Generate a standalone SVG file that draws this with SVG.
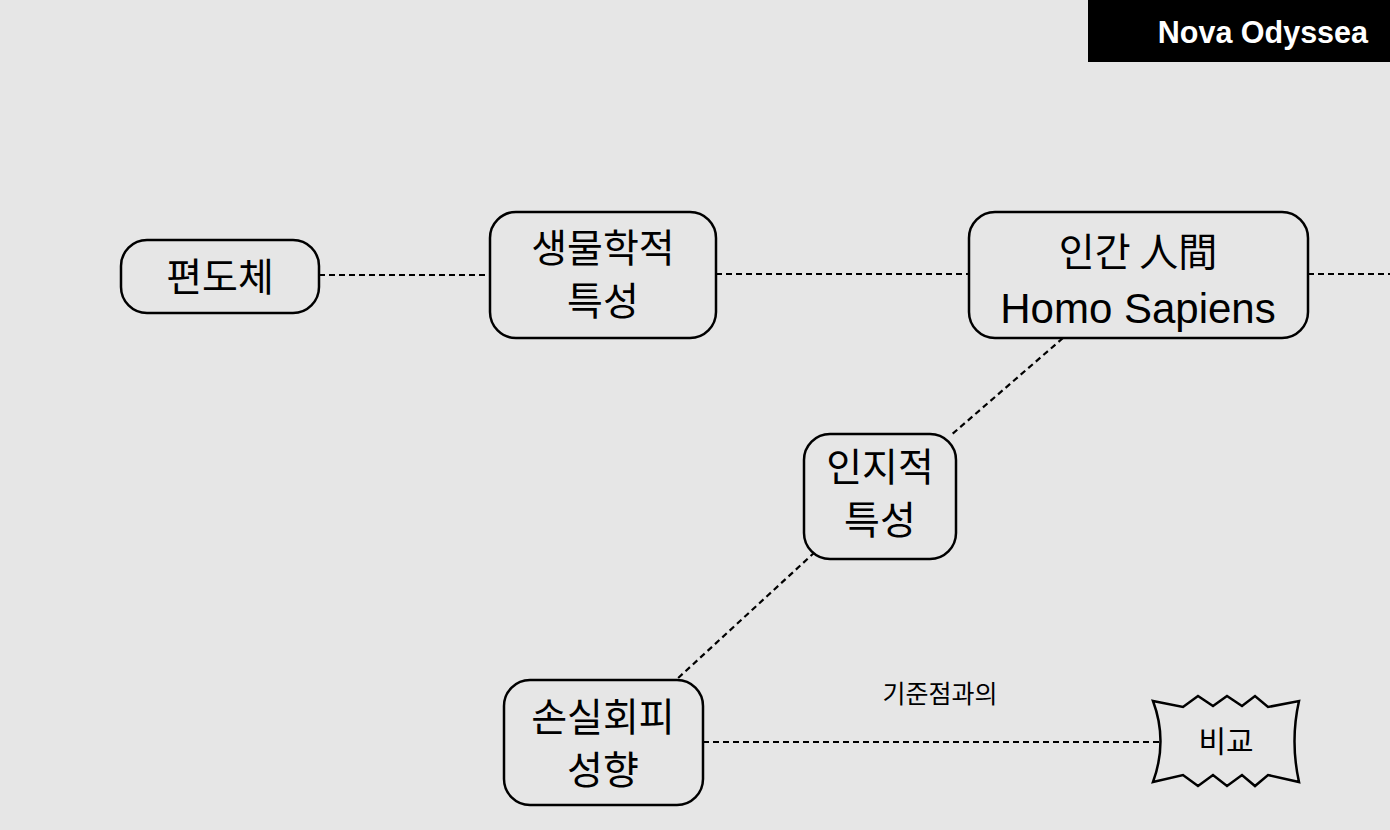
<svg xmlns="http://www.w3.org/2000/svg" width="1390" height="830" viewBox="0 0 1390 830">
<style>
.bg{fill:#e6e6e6}
.node{fill:#e6e6e6;stroke:#000;stroke-width:2.5}
.kr{font-family:"Noto Sans CJK KR","Noto Sans",sans-serif;font-size:39px;fill:#000;text-anchor:middle;dominant-baseline:central}
.lat{font-family:"Liberation Sans",Arial,sans-serif;font-size:42px;fill:#000;text-anchor:middle}
.edge{fill:none;stroke:#000;stroke-width:2.2;stroke-dasharray:6 4}
</style>
<rect class="bg" x="0" y="0" width="1390" height="830"/>
<g id="header">
<rect x="1088" y="0" width="302" height="62" fill="#000"/>
<text x="1368" y="43" font-family="Liberation Sans,Arial,sans-serif" font-size="30.5" font-weight="bold" fill="#fff" text-anchor="end">Nova Odyssea</text>
</g>
<g id="connectors">
<line class="edge" x1="319" y1="275" x2="490" y2="275"/>
<line class="edge" x1="716" y1="274" x2="969" y2="274"/>
<line class="edge" x1="1308" y1="274" x2="1390" y2="274"/>
<line class="edge" x1="1063" y1="338" x2="950" y2="436"/>
<line class="edge" x1="815" y1="552" x2="676" y2="680"/>
<line class="edge" x1="703" y1="742" x2="1160" y2="742"/>
<text x="940" y="692" font-family="Noto Sans CJK KR,sans-serif" font-size="25" text-anchor="middle" dominant-baseline="central">기준점과의</text>
</g>
<g id="n-amygdala">
<rect class="node" x="121" y="240" width="198" height="73" rx="26"/>
<text class="kr" x="220" y="274">편도체</text>
</g>
<g id="n-bio">
<rect class="node" x="490" y="212" width="226" height="126" rx="26"/>
<text class="kr" x="603" y="245">생물학적</text>
<text class="kr" x="603" y="298">특성</text>
</g>
<g id="n-human">
<rect class="node" x="969" y="212" width="339" height="126" rx="26"/>
<text class="kr" x="1138" y="249">인간 人間</text>
<text class="lat" x="1138" y="323">Homo Sapiens</text>
</g>
<g id="n-cog">
<rect class="node" x="804" y="434" width="152" height="125" rx="26"/>
<text class="kr" x="880" y="464">인지적</text>
<text class="kr" x="880" y="517">특성</text>
</g>
<g id="n-loss">
<rect class="node" x="504" y="680" width="199" height="125" rx="26"/>
<text class="kr" x="603" y="714">손실회피</text>
<text class="kr" x="603" y="767">성향</text>
</g>
<g id="n-compare">
<path class="node" d="M1153,701 L1183,707 L1198,696 L1213,706 L1227,696 L1242,706 L1255,696 L1268,707 L1299,701 Q1290,741 1299,782 L1268,775 L1255,786 L1242,775 L1227,786 L1213,775 L1198,786 L1183,775 L1153,782 Q1168,741 1153,701 Z"/>
<text x="1226" y="739" font-family="Noto Sans CJK KR,sans-serif" font-size="30" text-anchor="middle" dominant-baseline="central">비교</text>
</g>
</svg>
